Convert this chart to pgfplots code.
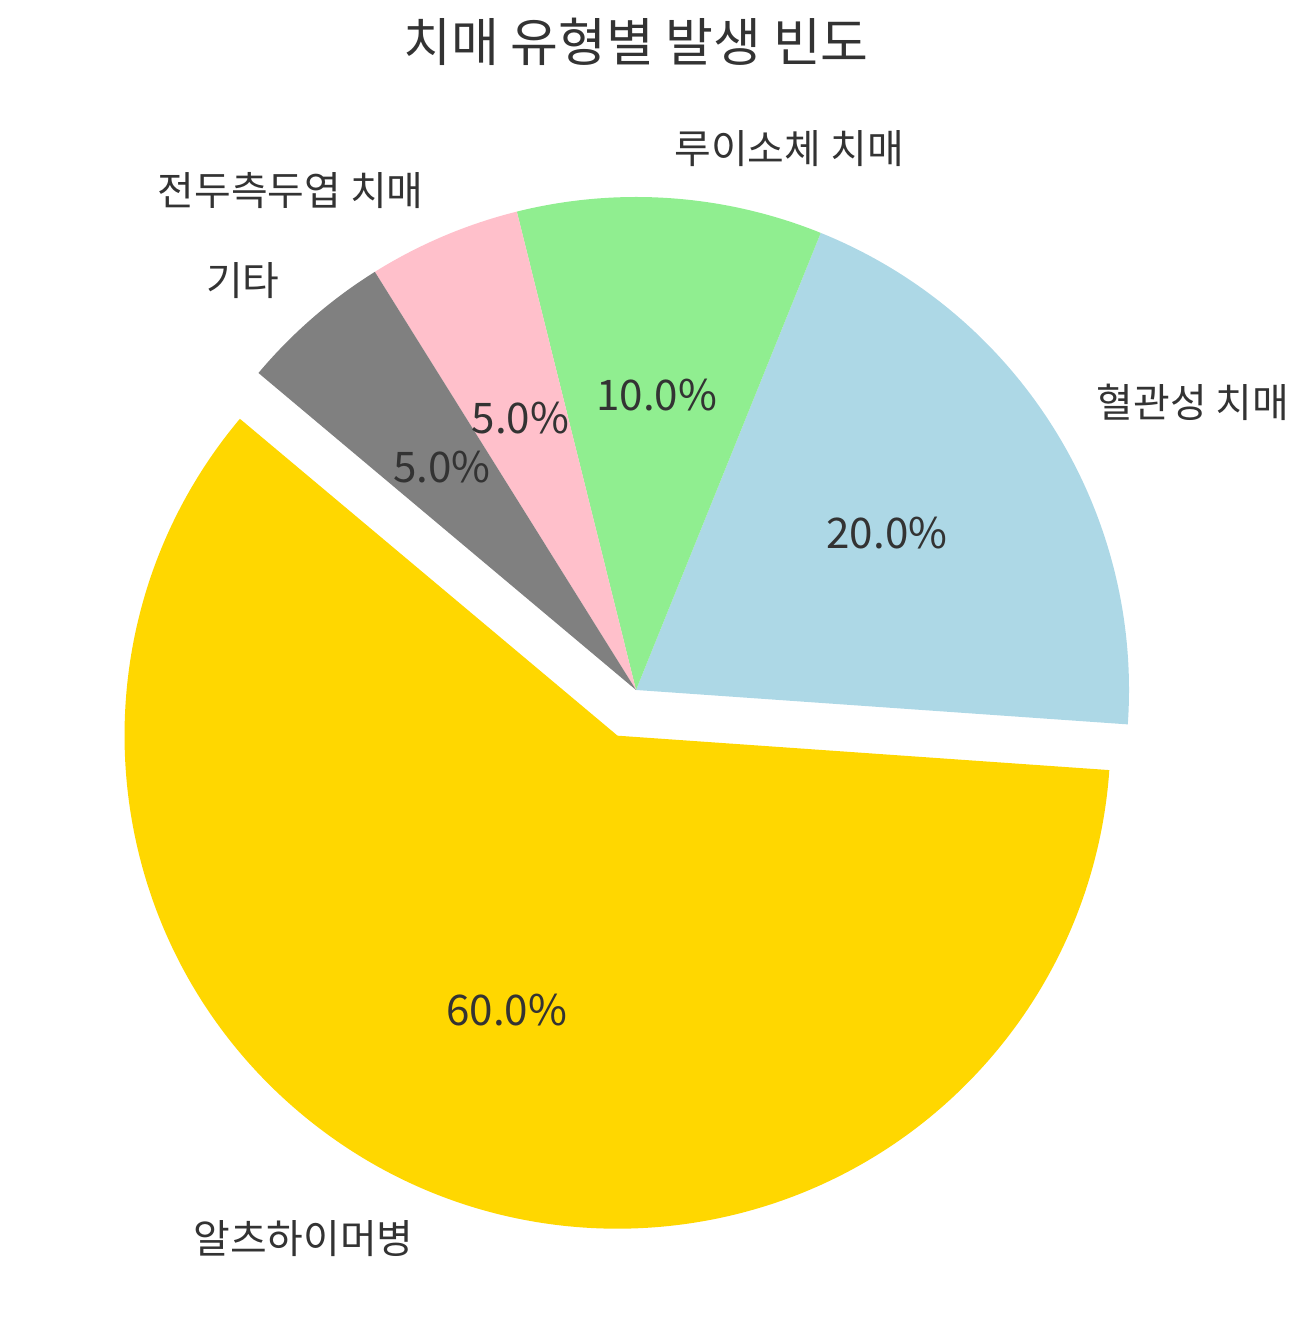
\documentclass[border=0pt]{standalone}
\usepackage{fontspec}
\setmainfont{Noto Sans CJK KR}
\usepackage{pgfplots}
\usepackage{pgfplotstable}
\pgfplotsset{compat=1.18}

\definecolor{c0}{HTML}{FFD700}
\definecolor{c1}{HTML}{ADD8E6}
\definecolor{c2}{HTML}{90EE90}
\definecolor{c3}{HTML}{FFC0CB}
\definecolor{c4}{HTML}{808080}
\definecolor{txt}{HTML}{333333}

\pgfplotstableread[col sep=comma]{
label,value,explode
알츠하이머병,60,0.1
혈관성 치매,20,0
루이소체 치매,10,0
전두측두엽 치매,5,0
기타,5,0
}\datatable

\def\startangle{140}
\gdef\total{0}
\pgfplotsforeachungrouped \i in {0,...,4}{%
  \pgfplotstablegetelem{\i}{value}\of\datatable
  \pgfmathsetmacro\tmp{\total+\pgfplotsretval}%
  \xdef\total{\tmp}%
}
\xdef\cur{\startangle}
\pgfplotsforeachungrouped \i in {0,...,4}{%
  \pgfplotstablegetelem{\i}{value}\of\datatable
  \let\val\pgfplotsretval
  \pgfplotstablegetelem{\i}{explode}\of\datatable
  \let\ex\pgfplotsretval
  \pgfmathsetmacro\spn{\val/\total*360}%
  \pgfmathsetmacro\nxt{\cur+\spn}%
  \pgfmathsetmacro\md{\cur+\spn/2}%
  \pgfmathsetmacro\cx{\ex*cos(\md)}%
  \pgfmathsetmacro\cy{\ex*sin(\md)}%
  \pgfmathsetmacro\sx{\cx+cos(\cur)}%
  \pgfmathsetmacro\sy{\cy+sin(\cur)}%
  \pgfmathsetmacro\lx{\cx+1.1*cos(\md)}%
  \pgfmathsetmacro\ly{\cy+1.1*sin(\md)}%
  \pgfmathsetmacro\px{\cx+0.6*cos(\md)}%
  \pgfmathsetmacro\py{\cy+0.6*sin(\md)}%
  \pgfmathparse{cos(\md)>0 ? 1 : 0}%
  \ifnum\pgfmathresult=1 \def\anc{west}\else\def\anc{east}\fi
  \pgfmathsetmacro\pct{\val/\total*100}%
  \pgfmathprintnumberto[fixed,fixed zerofill,precision=1,assume math mode=true]{\pct}{\pcttxt}%
  \expandafter\global\expandafter\let\csname P\i\endcsname\pcttxt
  \pgfplotstablegetelem{\i}{label}\of\datatable
  \expandafter\global\expandafter\let\csname L\i\endcsname\pgfplotsretval
  \expandafter\xdef\csname S\i\endcsname{\cur}%
  \expandafter\xdef\csname E\i\endcsname{\nxt}%
  \expandafter\xdef\csname CX\i\endcsname{\cx}%
  \expandafter\xdef\csname CY\i\endcsname{\cy}%
  \expandafter\xdef\csname SX\i\endcsname{\sx}%
  \expandafter\xdef\csname SY\i\endcsname{\sy}%
  \expandafter\xdef\csname LX\i\endcsname{\lx}%
  \expandafter\xdef\csname LY\i\endcsname{\ly}%
  \expandafter\xdef\csname PX\i\endcsname{\px}%
  \expandafter\xdef\csname PY\i\endcsname{\py}%
  \expandafter\xdef\csname A\i\endcsname{\anc}%
  \xdef\cur{\nxt}%
}

\begin{document}
\begin{tikzpicture}
\begin{axis}[
  x=4.93cm, y=4.93cm,
  xmin=-1.2901, xmax=1.3651,
  ymin=-1.2901, ymax=1.3996,
  hide axis, clip=false,
]
\coordinate (BL) at (rel axis cs:0,0);
\coordinate (TR) at (rel axis cs:1,1);
\pgfplotsinvokeforeach{0,...,4}{
  \fill[c#1] (axis cs:\csname CX#1\endcsname,\csname CY#1\endcsname)
    -- (axis cs:\csname SX#1\endcsname,\csname SY#1\endcsname)
    arc[start angle=\csname S#1\endcsname, end angle=\csname E#1\endcsname, radius=4.93cm]
    -- cycle;
}
\pgfplotsinvokeforeach{0,...,4}{
  \node[anchor=\csname A#1\endcsname, inner sep=0pt, text=txt, font=\fontsize{11.35}{13}\selectfont]
    at (axis cs:\csname LX#1\endcsname,\csname LY#1\endcsname) {\csname L#1\endcsname};
  \node[anchor=center, inner sep=0pt, text=txt, font=\fontsize{12}{14}\selectfont]
    at (axis cs:\csname PX#1\endcsname,\csname PY#1\endcsname) {\csname P#1\endcsname\%};
}
\node[anchor=center, inner sep=0pt, text=txt, font=\fontsize{14.8}{17}\selectfont]
  at (axis cs:0.0,1.314) {치매 유형별 발생 빈도};
\end{axis}
\pgfresetboundingbox
\useasboundingbox (BL) rectangle (TR);
\end{tikzpicture}
\end{document}
